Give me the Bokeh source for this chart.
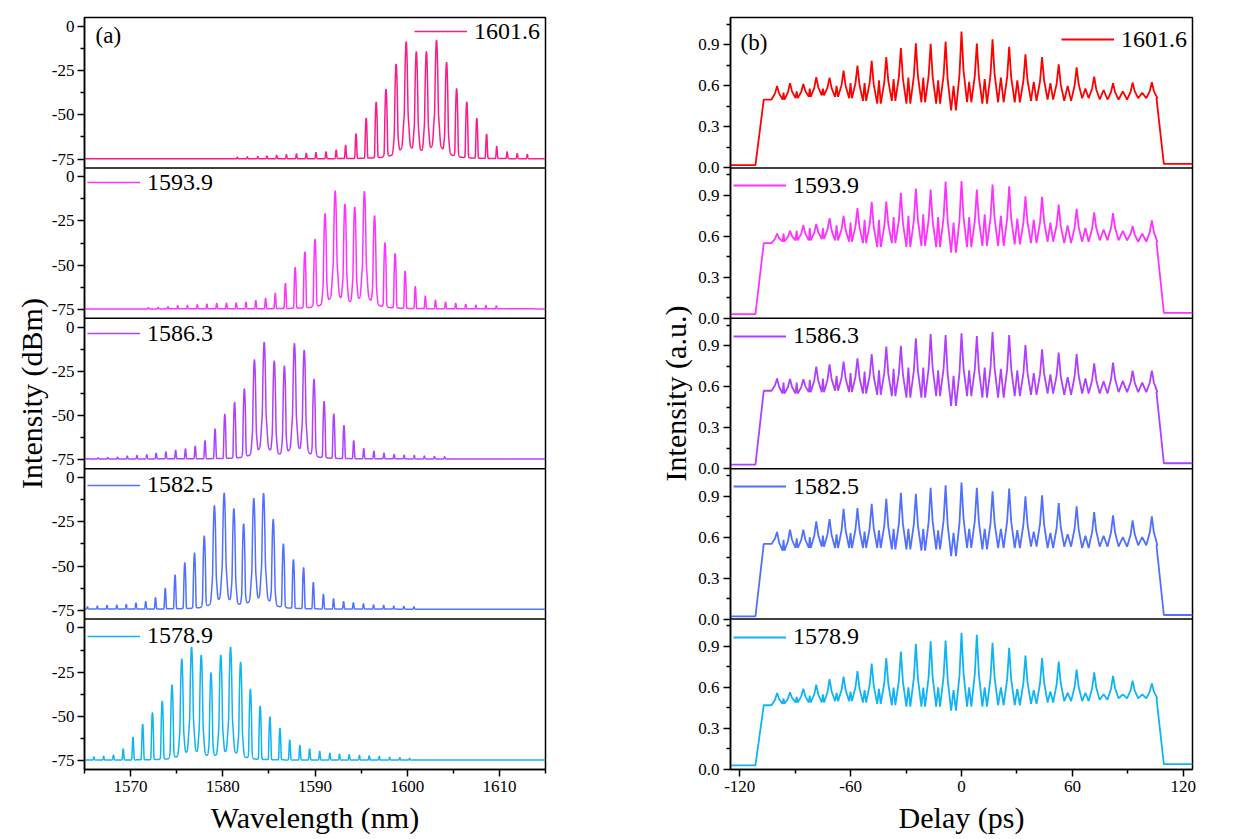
import numpy as np
from bokeh.plotting import figure
from bokeh.layouts import row
from bokeh.models import Range1d, FixedTicker, Span, Label, Legend, LegendItem
from bokeh.embed import file_html
from bokeh.resources import INLINE

FONT = "'Liberation Serif', 'Times New Roman', serif"

# ---------------- data ----------------
labels = ["1601.6", "1593.9", "1586.3", "1582.5", "1578.9"]
spec_colors = ["#FF1A8C", "#FF33FF", "#B040FF", "#5070FF", "#10B4F5"]
ac_colors = ["#FF0000", "#FF33FF", "#B040FF", "#5070FF", "#10B4F5"]

# (a) optical spectra: comb-line wavelengths (nm) and peak powers (dBm)
wl_1601 = [1581.57, 1582.66, 1583.80, 1584.78, 1585.84, 1586.90, 1587.99, 1589.05, 1590.11, 1591.20,
           1592.30, 1593.32, 1594.45, 1595.55, 1596.64, 1597.70, 1598.80, 1599.89, 1600.99, 1602.08,
           1603.18, 1604.27, 1605.36, 1606.46, 1607.55, 1608.61, 1609.71, 1610.84, 1611.93, 1613.03]
pk_1601 = [-74.0, -73.8, -73.6, -73.3, -73.0, -72.6, -72.2, -71.8, -71.4, -71.0,
           -70.0, -67.3, -60.8, -51.9, -42.9, -35.6, -21.4, -8.8, -14.4, -14.4,
           -7.9, -20.4, -35.3, -42.8, -52.1, -61.0, -68.0, -71.0, -72.0, -72.5]

wl_1593 = [1571.93, 1572.99, 1574.05, 1575.11, 1576.17, 1577.23, 1578.28, 1579.34, 1580.40, 1581.46,
           1582.52, 1583.58, 1584.64, 1585.69, 1586.79, 1587.85, 1588.90, 1590.00, 1591.09, 1592.19,
           1593.25, 1594.31, 1595.36, 1596.46, 1597.59, 1598.69, 1599.78, 1600.88, 1601.97, 1603.07,
           1604.16, 1605.26, 1606.35, 1607.45, 1608.54, 1609.67]
pk_1593 = [-74.1, -73.9, -73.5, -72.9, -72.8, -72.4, -72.0, -71.6, -71.5, -71.3,
           -70.9, -70.0, -68.7, -65.9, -60.3, -51.3, -42.5, -35.4, -20.9, -8.0,
           -15.5, -17.2, -8.4, -22.0, -37.3, -43.5, -53.4, -62.0, -67.5, -69.8,
           -70.9, -71.6, -72.2, -72.6, -72.8, -73.0]

wl_1586 = [1565.40, 1566.46, 1567.52, 1568.58, 1569.64, 1570.69, 1571.75, 1572.77, 1573.83, 1574.89,
           1575.95, 1577.01, 1578.07, 1579.16, 1580.22, 1581.28, 1582.34, 1583.43, 1584.49, 1585.58,
           1586.68, 1587.77, 1588.83, 1589.89, 1590.99, 1592.04, 1593.14, 1594.20, 1595.29, 1596.39,
           1597.48, 1598.58, 1599.67, 1600.77, 1601.86, 1602.96, 1604.05]
pk_1586 = [-74.3, -73.9, -73.7, -73.5, -72.9, -72.6, -72.2, -71.3, -70.5, -69.6,
           -68.8, -67.3, -64.2, -57.6, -49.3, -42.5, -34.9, -18.5, -8.6, -19.2,
           -22.0, -9.3, -13.1, -29.5, -42.0, -49.1, -55.6, -64.2, -68.7, -70.1,
           -71.3, -72.0, -72.4, -72.6, -72.9, -73.1, -73.3]

wl_1582 = [1565.33, 1566.39, 1567.45, 1568.50, 1569.53, 1570.58, 1571.64, 1572.70, 1573.76, 1574.82,
           1575.88, 1576.93, 1577.99, 1579.09, 1580.15, 1581.20, 1582.26, 1583.36, 1584.42, 1585.47,
           1586.57, 1587.66, 1588.76, 1589.82, 1590.91, 1592.01, 1593.10, 1594.16, 1595.26, 1596.35,
           1597.45, 1598.54, 1599.64, 1600.73]
pk_1582 = [-73.1, -72.7, -72.3, -72.2, -71.8, -71.0, -70.1, -67.9, -62.6, -55.1,
           -48.2, -42.6, -33.1, -15.9, -8.8, -17.6, -26.2, -11.8, -9.0, -23.7,
           -37.6, -46.5, -51.0, -59.3, -66.0, -68.6, -70.1, -70.8, -71.4, -72.0,
           -72.3, -72.7, -72.9, -73.1]

wl_1578 = [1564.96, 1566.02, 1567.08, 1568.14, 1569.20, 1570.26, 1571.31, 1572.37, 1573.43, 1574.49,
           1575.55, 1576.61, 1577.66, 1578.72, 1579.78, 1580.84, 1581.93, 1582.99, 1584.05, 1585.11,
           1586.20, 1587.26, 1588.36, 1589.42, 1590.51, 1591.61, 1592.66, 1593.72, 1594.82, 1595.88,
           1596.97, 1598.10, 1599.20, 1600.26]
pk_1578 = [-73.3, -72.9, -72.5, -71.9, -68.4, -61.8, -54.4, -48.0, -41.4, -32.2,
           -17.5, -10.9, -15.4, -25.4, -15.4, -10.9, -19.4, -34.7, -44.3, -50.3,
           -56.7, -63.3, -66.3, -68.4, -69.7, -70.8, -71.4, -71.6, -72.1, -72.3,
           -72.7, -73.1, -73.3, -73.6]

spec_wl = [wl_1601, wl_1593, wl_1586, wl_1582, wl_1578]
spec_pk = [pk_1601, pk_1593, pk_1586, pk_1582, pk_1578]
floor_dbm = [-74.9, -74.7, -74.5, -74.4, -74.7]

# (b) autocorrelation traces: peak delays (ps), peak heights, gap valleys, gap sub-peaks
ac_delays = [-99.8, -92.8, -85.6, -78.6, -71.4, -63.8, -56.3, -48.6, -40.7, -32.8, -24.7, -16.7, -8.6,
             0.0, 8.3, 16.8, 25.8, 34.6, 43.6, 52.6, 62.3, 71.8, 82.0, 92.6, 103.0]
ac_rise = [-111.5, -107.0]
ac_fall = [105.5, 109.5]

ac_pk_1601 = [0.60, 0.62, 0.614, 0.663, 0.66, 0.712, 0.748, 0.783, 0.81, 0.876, 0.912, 0.907, 0.924,
              0.998, 0.91, 0.94, 0.885, 0.83, 0.81, 0.758, 0.736, 0.668, 0.62, 0.624, 0.626]
ac_va_1601 = [0.50, 0.51, 0.52, 0.53, 0.52, 0.51, 0.49, 0.47, 0.49, 0.47, 0.48, 0.47, 0.42,
              0.48, 0.47, 0.48, 0.48, 0.49, 0.50, 0.49, 0.51, 0.50, 0.50, 0.51]
ac_sb_1601 = [0.55, 0.56, 0.58, 0.58, 0.60, 0.62, 0.62, 0.64, 0.65, 0.66, 0.66, 0.64, 0.60,
              0.63, 0.65, 0.66, 0.64, 0.63, 0.62, 0.60, 0.58, 0.57, 0.56, 0.55]

ac_pk_1593 = [0.62, 0.64, 0.68, 0.69, 0.733, 0.75, 0.806, 0.851, 0.853, 0.917, 0.949, 0.942, 1.0,
              1.003, 0.942, 0.979, 0.966, 0.893, 0.888, 0.831, 0.80, 0.775, 0.77, 0.676, 0.716]
ac_va_1593 = [0.56, 0.57, 0.57, 0.58, 0.57, 0.56, 0.55, 0.52, 0.55, 0.52, 0.53, 0.52, 0.48,
              0.52, 0.53, 0.53, 0.54, 0.55, 0.56, 0.55, 0.56, 0.57, 0.57, 0.56]
ac_sb_1593 = [0.62, 0.64, 0.66, 0.66, 0.68, 0.70, 0.72, 0.72, 0.74, 0.75, 0.76, 0.74, 0.70,
              0.74, 0.76, 0.75, 0.73, 0.72, 0.70, 0.68, 0.66, 0.65, 0.64, 0.62]

ac_pk_1586 = [0.66, 0.656, 0.654, 0.746, 0.763, 0.783, 0.807, 0.839, 0.893, 0.898, 0.954, 0.985, 0.978,
              0.99, 0.97, 1.0, 0.978, 0.905, 0.873, 0.849, 0.839, 0.77, 0.776, 0.717, 0.717]
ac_va_1586 = [0.55, 0.55, 0.56, 0.56, 0.57, 0.56, 0.55, 0.54, 0.53, 0.52, 0.52, 0.53, 0.46,
              0.53, 0.52, 0.52, 0.53, 0.54, 0.55, 0.54, 0.55, 0.55, 0.56, 0.56]
ac_sb_1586 = [0.63, 0.63, 0.65, 0.66, 0.68, 0.70, 0.71, 0.72, 0.73, 0.74, 0.74, 0.72, 0.68,
              0.72, 0.74, 0.73, 0.72, 0.70, 0.69, 0.67, 0.66, 0.64, 0.64, 0.63]

ac_pk_1582 = [0.637, 0.654, 0.654, 0.715, 0.732, 0.807, 0.812, 0.844, 0.88, 0.924, 0.917, 0.96, 0.978,
              0.998, 0.96, 0.934, 0.954, 0.898, 0.905, 0.849, 0.824, 0.783, 0.759, 0.722, 0.751]
ac_va_1582 = [0.50, 0.52, 0.52, 0.53, 0.52, 0.52, 0.52, 0.52, 0.51, 0.51, 0.50, 0.51, 0.46,
              0.52, 0.51, 0.52, 0.52, 0.53, 0.52, 0.53, 0.52, 0.53, 0.53, 0.54]
ac_sb_1582 = [0.58, 0.59, 0.60, 0.61, 0.62, 0.63, 0.64, 0.65, 0.66, 0.66, 0.66, 0.65, 0.63,
              0.66, 0.66, 0.66, 0.65, 0.64, 0.63, 0.62, 0.61, 0.61, 0.60, 0.60]

ac_pk_1578 = [0.56, 0.565, 0.59, 0.62, 0.66, 0.68, 0.72, 0.775, 0.815, 0.863, 0.92, 0.937, 0.944,
              1.0, 0.985, 0.927, 0.89, 0.834, 0.815, 0.79, 0.73, 0.71, 0.685, 0.65, 0.63]
ac_va_1578 = [0.48, 0.49, 0.49, 0.49, 0.50, 0.50, 0.49, 0.48, 0.47, 0.46, 0.46, 0.46, 0.43,
              0.46, 0.46, 0.47, 0.47, 0.48, 0.49, 0.50, 0.50, 0.51, 0.52, 0.52]
ac_sb_1578 = [0.52, 0.53, 0.54, 0.55, 0.56, 0.57, 0.58, 0.59, 0.60, 0.60, 0.60, 0.60, 0.58,
              0.60, 0.60, 0.60, 0.59, 0.58, 0.57, 0.56, 0.56, 0.55, 0.55, 0.55]

ac_pk = [ac_pk_1601, ac_pk_1593, ac_pk_1586, ac_pk_1582, ac_pk_1578]
ac_va = [ac_va_1601, ac_va_1593, ac_va_1586, ac_va_1582, ac_va_1578]
ac_sb = [ac_sb_1601, ac_sb_1593, ac_sb_1586, ac_sb_1582, ac_sb_1578]
ac_start = [0.50, 0.55, 0.57, 0.55, 0.47]
ac_bg = [[0.02, 0.03], [0.03, 0.04], [0.03, 0.04], [0.02, 0.03], [0.03, 0.04]]

spec_yticks = [-75, -50, -25, 0]
spec_yminor = [-62.5, -37.5, -12.5]
ac_yticks = [0.0, 0.3, 0.6, 0.9]
ac_yminor = [0.15, 0.45, 0.75, 1.05]
wl_ticks = [1570, 1580, 1590, 1600, 1610]
wl_minor = [1565, 1575, 1585, 1595, 1605, 1615]
dl_ticks = [-120, -60, 0, 60, 120]
dl_minor = [-90, -30, 30, 90]

# ---------------- layout constants ----------------
H = 838
N = 5
SPAN_A = 85.0      # dB range of one spectrum panel (-80 .. 5)
SPAN_B = 1.1       # range of one autocorrelation panel (0 .. 1.1)


def style_fig(p):
    p.xgrid.visible = False
    p.ygrid.visible = False
    p.outline_line_color = "black"
    p.outline_line_width = 1.5
    p.outline_line_alpha = 1.0
    p.background_fill_color = "white"
    p.border_fill_color = "white"
    for ax in (p.xaxis[0], p.yaxis[0]):
        ax.axis_line_width = 1.5
        ax.axis_line_color = "black"
        ax.major_tick_line_width = 1.5
        ax.minor_tick_line_width = 1.5
        ax.major_tick_line_color = "black"
        ax.minor_tick_line_color = "black"
        ax.major_tick_in = 0
        ax.major_tick_out = 7
        ax.minor_tick_in = 0
        ax.minor_tick_out = 4
        ax.major_label_text_font = FONT
        ax.major_label_text_font_size = "17px"
        ax.major_label_text_color = "black"
        ax.axis_label_text_font = FONT
        ax.axis_label_text_font_size = "30px"
        ax.axis_label_text_font_style = "normal"
        ax.axis_label_text_color = "black"


def make_legend(renderer, text, loc):
    return Legend(items=[LegendItem(label=text, renderers=[renderer])], location=loc,
                  background_fill_alpha=0, border_line_alpha=0, padding=0, margin=0, spacing=0,
                  glyph_width=53, glyph_height=28, label_height=28, label_standoff=7,
                  label_text_font=FONT, label_text_font_size="24px", label_text_color="black")


# ---------------- (a) spectra ----------------
pa = figure(width=553, height=H, output_backend="svg", toolbar_location=None,
            x_range=Range1d(1565, 1615), y_range=Range1d(-80, -80 + N * SPAN_A),
            min_border_left=84, min_border_right=8, min_border_top=14, min_border_bottom=68)
style_fig(pa)

grid = np.linspace(1565, 1615, 10001)
legends_a = []
for i in range(N):
    off = (N - 1 - i) * SPAN_A
    fl = 10 ** (floor_dbm[i] / 10)
    lin = np.full_like(grid, fl)
    for w, h in zip(spec_wl[i], spec_pk[i]):
        amp = max(10 ** (h / 10) - fl, 1e-12)
        d = grid - w
        shape = (np.exp(-0.5 * (d / 0.045) ** 2)
                 + 10 ** -3.5 * np.exp(-0.5 * (d / 0.12) ** 2)
                 + 10 ** -5.6 / (1 + (d / 0.3) ** 2))
        lin += amp * shape
    y = 10 * np.log10(lin) + off
    r = pa.line(grid, y, line_color=spec_colors[i], line_width=1.5)
    legends_a.append(r)
    if i > 0:
        pa.add_layout(Span(location=5 + off, dimension="width", line_color="black", line_width=1.5))

ticks = []
minors = []
over = {}
for i in range(N):
    off = (N - 1 - i) * SPAN_A
    for t in spec_yticks:
        v = round(t + off, 4)
        ticks.append(v)
        over[v] = str(t)
    for t in spec_yminor:
        minors.append(round(t + off, 4))
pa.yaxis.ticker = FixedTicker(ticks=ticks, minor_ticks=minors)
pa.yaxis.major_label_overrides = over
pa.yaxis.major_label_standoff = 3
pa.yaxis.axis_label = "Intensity (dBm)"
pa.yaxis.axis_label_standoff = 1
pa.xaxis.ticker = FixedTicker(ticks=wl_ticks, minor_ticks=wl_minor)
pa.xaxis.major_label_overrides = {t: str(t) for t in wl_ticks}
pa.xaxis.major_label_standoff = 4
pa.xaxis.axis_label = "Wavelength (nm)"
pa.xaxis.axis_label_standoff = 6

frame_h_a = H - 14 - 68
ph_a = frame_h_a / N
for i in range(N):
    top_from_bottom = (N - i) * ph_a
    vx = 330 if i == 0 else 3
    pa.add_layout(make_legend(legends_a[i], labels[i], (vx, top_from_bottom - 18 - 14)))

pa.add_layout(Label(x=1566.2, y=-80 + N * SPAN_A - 10.1, text="(a)", text_font=FONT,
                    text_font_size="23px", text_baseline="middle", text_color="black"))

# ---------------- (b) autocorrelation ----------------
pb = figure(width=681, height=H, output_backend="svg", toolbar_location=None,
            x_range=Range1d(-125, 125), y_range=Range1d(0, N * SPAN_B),
            min_border_left=177, min_border_right=42, min_border_top=17, min_border_bottom=69)
style_fig(pb)

legends_b = []
n = len(ac_delays)
for i in range(N):
    off = (N - 1 - i) * SPAN_B
    pk, va, sb = ac_pk[i], ac_va[i], ac_sb[i]
    xs = [-125, ac_rise[0], ac_rise[1]]
    ys = [ac_bg[i][0], ac_bg[i][0], ac_start[i]]
    for k, t in enumerate(ac_delays):
        lv = ac_start[i] if k == 0 else va[k - 1]
        rv = va[k] if k < n - 1 else va[-1]
        h = pk[k]
        xs += [t - 3.0, t - 1.1, t, t + 1.1, t + 3.0]
        ys += [lv, lv + 0.45 * (h - lv), h, rv + 0.45 * (h - rv), rv]
        if k < n - 1:
            xs.append((t + ac_delays[k + 1]) / 2)
            ys.append(sb[k])
    xs += [ac_fall[0], ac_fall[1], 125]
    ys += [va[-1], ac_bg[i][1], ac_bg[i][1]]
    ys = [v + off for v in ys]
    r = pb.line(xs, ys, line_color=ac_colors[i], line_width=1.8)
    legends_b.append(r)
    if i > 0:
        pb.add_layout(Span(location=SPAN_B + off, dimension="width", line_color="black", line_width=1.5))

ticks = []
minors = []
over = {}
for i in range(N):
    off = (N - 1 - i) * SPAN_B
    for t in ac_yticks:
        v = round(t + off, 4)
        ticks.append(v)
        over[v] = "%.1f" % t
    for t in ac_yminor:
        minors.append(round(t + off, 4))
pb.yaxis.ticker = FixedTicker(ticks=ticks, minor_ticks=minors)
pb.yaxis.major_label_overrides = over
pb.yaxis.major_label_standoff = 4
pb.yaxis.axis_label = "Intensity (a.u.)"
pb.yaxis.axis_label_standoff = 3
pb.xaxis.ticker = FixedTicker(ticks=dl_ticks, minor_ticks=dl_minor)
pb.xaxis.major_label_overrides = {t: str(t) for t in dl_ticks}
pb.xaxis.major_label_standoff = 4
pb.xaxis.axis_label = "Delay (ps)"
pb.xaxis.axis_label_standoff = 6

frame_h_b = H - 17 - 69
ph_b = frame_h_b / N
for i in range(N):
    top_from_bottom = (N - i) * ph_b
    if i == 0:
        loc = (331, top_from_bottom - 22 - 14)
    else:
        loc = (3, top_from_bottom - 18 - 14)
    pb.add_layout(make_legend(legends_b[i], labels[i], loc))

pb.add_layout(Label(x=-119.6, y=N * SPAN_B - 0.183, text="(b)", text_font=FONT,
                    text_font_size="23px", text_baseline="middle", text_color="black"))

layout = row(pa, pb)
open("out.html", "w").write(file_html(layout, INLINE))
